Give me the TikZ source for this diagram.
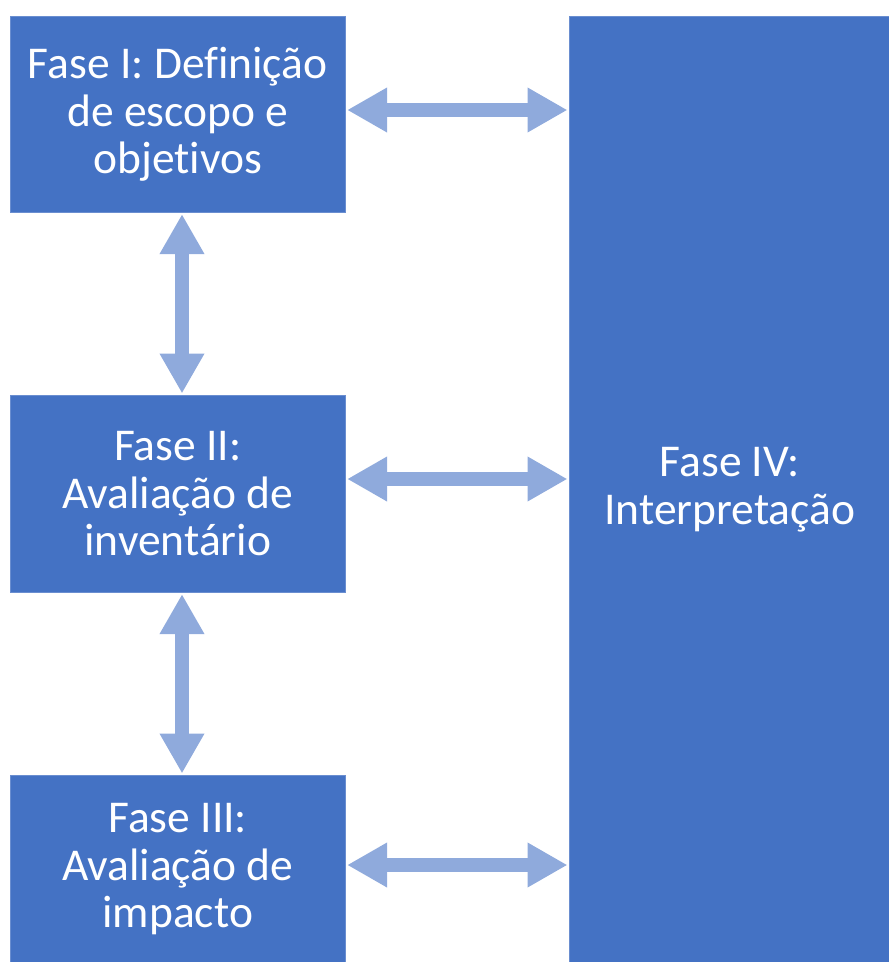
\documentclass[tikz,border=0pt]{standalone}
\usepackage{fontspec}
\setmainfont[Ligatures={NoCommon}]{Carlito}
\usetikzlibrary{arrows.meta}
\definecolor{boxblue}{HTML}{4472C4}
\definecolor{arrblue}{HTML}{8FAADC}
\begin{document}
\begin{tikzpicture}[x=1pt,y=-1pt,
  phase/.style={fill=boxblue, draw=arrblue!50!boxblue, line width=0.6pt, text=white,
    align=center, inner sep=0pt, anchor=north west,
    font=\fontsize{45.5}{47.5}\selectfont},
  dblarrow/.style={draw=arrblue, line width=14pt,
    {Triangle[length=40pt,width=42pt]}-{Triangle[length=40pt,width=42pt]},
    shorten <=1.5pt, shorten >=1.5pt}]
\useasboundingbox (0,0) rectangle (889,962);
\node[phase, minimum width=335pt, minimum height=196pt] (I) at (10,16)
  {Fase I: Definição\\de escopo e\\objetivos};
\node[phase, minimum width=335pt, minimum height=197pt] (II) at (10,395)
  {Fase II:\\Avaliação de\\inventário};
\node[phase, minimum width=335pt, minimum height=188pt] (III) at (10,775)
  {Fase III:\\Avaliação de\\impacto};
\node[phase, minimum width=321pt, minimum height=947pt] (IV) at (569,16)
  {Fase IV:\\Interpretação};
\draw[dblarrow] (I.east |- 0,110) -- (IV.west |- 0,110);
\draw[dblarrow] (II.east |- 0,479) -- (IV.west |- 0,479);
\draw[dblarrow] (III.east |- 0,865) -- (IV.west |- 0,865);
\draw[dblarrow] (I.south -| 182,0) -- (II.north -| 182,0);
\draw[dblarrow] (II.south -| 182,0) -- (III.north -| 182,0);
\end{tikzpicture}
\end{document}
